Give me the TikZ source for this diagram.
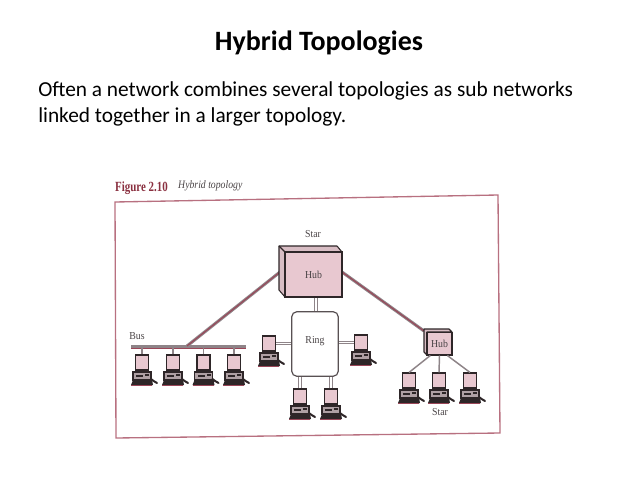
\documentclass[tikz,border=0pt]{standalone}
\usepackage{fontspec}
\setmainfont{Carlito}
\newfontfamily\figfont{Liberation Serif}
\definecolor{pinkfill}{HTML}{E8C8D0}
\definecolor{framecol}{HTML}{B87080}
\definecolor{capred}{HTML}{8A3040}
\definecolor{edgecol}{HTML}{2E2628}
\definecolor{linkgray}{HTML}{8E8488}
\definecolor{linkred}{HTML}{9A4658}
\definecolor{labelcol}{HTML}{4A4446}
\tikzset{
  x=0.75pt,y=-0.75pt,
  titletext/.style={font=\bfseries\fontsize{21}{25}\selectfont,inner sep=0pt,text=black},
  bodytext/.style={font=\fontsize{16}{21}\selectfont,inner sep=0pt,anchor=west,text=black},
  figlabel/.style={font=\figfont\fontsize{8}{9}\selectfont,inner sep=0pt,text=labelcol,xscale=0.92},
  monitor/.style={draw=edgecol,line width=1.1pt,fill=pinkfill,minimum width=9.5pt,minimum height=11pt,inner sep=0pt},
  hubface/.style={draw=edgecol,line width=1pt,fill=pinkfill,inner sep=0pt},
  hubside/.style={draw=edgecol,line width=0.8pt,fill=pinkfill!85!gray,line join=round},
  ringbox/.style={draw=edgecol!80,line width=0.9pt,fill=white,rounded corners=4pt,inner sep=0pt},
  thinlink/.style={draw=linkgray,line width=0.8pt},
  tubelink/.style={draw=linkgray,line width=0.8pt,double=white,double distance=1pt},
  thicklinkbase/.style={draw=linkgray,line width=2.3pt},
  thicklinktop/.style={draw=linkred,line width=0.8pt},
}
\newcommand{\pc}[3]{%
  \node[monitor] (#1) at (#2,#3+7.5) {};
  \fill[edgecol] (#2-5,#3+15) rectangle (#2+5,#3+17);
  \filldraw[draw=edgecol,fill=pinkfill!45!gray,line width=0.8pt] (#2-9,#3+17) rectangle (#2+9,#3+25);
  \fill[edgecol] (#2-6,#3+19.5) rectangle (#2+1,#3+21.5);
  \fill[edgecol] (#2+3,#3+19) rectangle (#2+7,#3+20.5);
  \fill[edgecol] (#2-9,#3+25) -- (#2+10,#3+25) -- (#2+11,#3+30) -- (#2-11,#3+30) -- cycle;
  \fill[linkred] (#2-11,#3+30) rectangle (#2+10,#3+31);
  \draw[edgecol,line width=1.5pt,line cap=round] (#2+9,#3+24) .. controls (#2+11,#3+25) and (#2+12,#3+27) .. (#2+15,#3+28);
}
\begin{document}
\begin{tikzpicture}
\useasboundingbox (0,0) rectangle (638,478);
\node[titletext] (title) at (319,43) {Hybrid Topologies};
\node[bodytext] (line1) at (38,91) {Often a network combines several topologies as sub networks};
\node[bodytext] (line2) at (38,117) {linked together in a larger topology.};

\node[font=\figfont\bfseries\fontsize{10.5}{12}\selectfont,text=capred,inner sep=0pt,anchor=west,xscale=0.78] (figno) at (115,188) {Figure 2.10};
\node[font=\figfont\itshape\fontsize{8.5}{10}\selectfont,text=labelcol,inner sep=0pt,anchor=west,xscale=0.86] (figname) at (178,186) {Hybrid topology};
\draw[framecol,line width=1pt] (115,202) -- (498,195) -- (500,433) -- (116,438) -- cycle;

% bus
\coordinate (busL) at (131,347);
\coordinate (busR) at (246,347);
\coordinate (busJ) at (187,346);
\draw[draw=linkgray,line width=2pt] ([yshift=0.4pt]busL) -- ([yshift=0.4pt]busR);
\draw[draw=linkred,line width=1pt] ([yshift=-1pt]busL) -- ([yshift=-1pt]busR);

% big hub
\node[hubface,minimum width=42.75pt,minimum height=33.75pt] (hubA) at (313.5,274.5) {};
\coordinate (hubAL) at (280,272);
\coordinate (hubAR) at (342,272);
\coordinate (hubAB) at (316,297);

% small hub
\node[hubface,minimum width=18.75pt,minimum height=17pt] (hubB) at (439.5,343.5) {};
\coordinate (hubBT) at (424,331);

% ring
\node[ringbox,minimum width=35pt,minimum height=48.5pt] (ring) at (315,344) {};

% thick links
\draw[thicklinkbase] (hubAL) -- (busJ);
\draw[thicklinktop] (hubAL) -- (busJ);
\draw[thicklinkbase] (hubAR) -- (hubBT);
\draw[thicklinktop] (hubAR) -- (hubBT);
\draw[tubelink] (hubAB) -- (ring.north -| hubAB);

% hub bodies drawn over link ends
\filldraw[hubside] (279,246) -- (337,246) -- (342,252) -- (285,252) -- (285,297) -- (279,290) -- cycle;
\draw[edgecol,line width=0.8pt] (279,246) -- (285,252);
\node[hubface,minimum width=42.75pt,minimum height=33.75pt] at (hubA) {};
\filldraw[hubside] (424,329) -- (449,329) -- (452,332) -- (427,332) -- (427,355) -- (424,352) -- cycle;
\node[hubface,minimum width=18.75pt,minimum height=17pt] at (hubB) {};
\node[figlabel] (hubAtxt) at (hubA) {Hub};
\node[figlabel] (hubBtxt) at (hubB) {Hub};
\node[figlabel] (ringtxt) at (315,341) {Ring};
\node[figlabel] (starA) at (313,234) {Star};
\node[figlabel] (starB) at (440,412) {Star};
\node[figlabel] (bustxt) at (137,336) {Bus};

% computers
\pc{b1}{142}{355}
\pc{b2}{173}{355}
\pc{b3}{203.5}{355}
\pc{b4}{234}{355}
\pc{rl}{269}{336}
\pc{rr}{361}{335}
\pc{r1}{300}{389}
\pc{r2}{331}{389}
\pc{s1}{409}{373}
\pc{s2}{439}{373}
\pc{s3}{470}{373}

% thin links
\foreach \n in {b1,b2,b3,b4}{
  \draw[thinlink] (\n.north) -- (\n.north |- busR);
}
\foreach \n in {r1,r2}{
  \draw[tubelink] (\n.north) -- (\n.north |- ring.south);
}
\draw[tubelink] (rl.east) -- (rl.east -| ring.west);
\draw[tubelink] (rr.west) -- (rr.west -| ring.east);
\draw[thinlink,line width=1.1pt] (hubB.south west) ++(3pt,0) -- (s1.north);
\draw[thinlink,line width=1.1pt] (hubB.south) -- (s2.north);
\draw[thinlink,line width=1.1pt] (hubB.south east) ++(-4pt,0) -- (s3.north);
\end{tikzpicture}
\end{document}
